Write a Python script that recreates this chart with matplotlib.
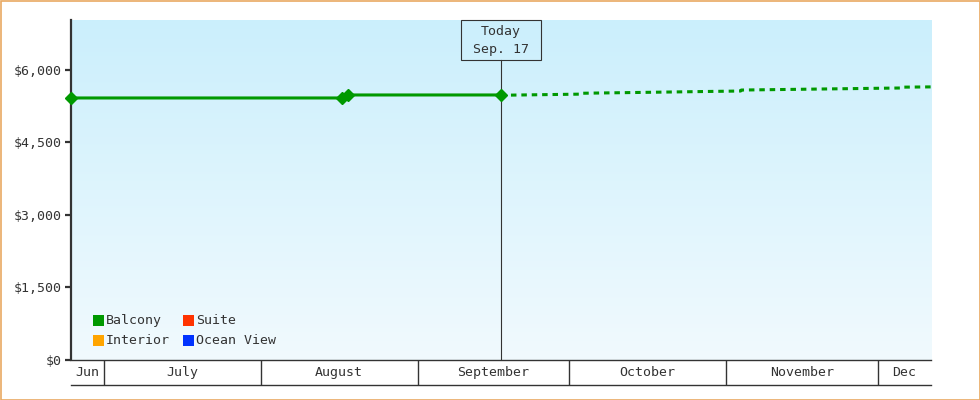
import numpy as np
import matplotlib
matplotlib.use("Agg")
import matplotlib.pyplot as plt
import matplotlib.dates as mdates
from matplotlib.patches import Rectangle
from datetime import datetime

plt.rcParams['font.family'] = ['DejaVu Sans Mono', 'DejaVu Sans']

# ---- data ----
actual_dates = ["2023-06-24 12:00", "2023-08-17 04:00", "2023-08-18 04:00", "2023-09-17 10:00"]
actual_values = [5421, 5421, 5483, 5483]

forecast_dates = ["2023-09-17 10:00", "2023-10-03 00:00", "2023-10-03 03:00",
                  "2023-11-03 21:00", "2023-11-04 00:00", "2023-12-06 00:00",
                  "2023-12-06 03:00", "2023-12-11 12:00"]
forecast_values = [5477, 5500, 5518, 5565, 5585, 5628, 5645, 5650]

today_date = "2023-09-17 10:00"
today_label = ["Today", "Sep. 17"]

x_start = "2023-06-24 12:00"
x_end = "2023-12-11 12:00"

month_bounds = ["2023-06-24 12:00", "2023-07-01", "2023-08-01", "2023-09-01",
                "2023-10-01", "2023-11-01", "2023-12-01", "2023-12-11 12:00"]
month_labels = ["Jun", "July", "August", "September", "October", "November", "Dec"]

y_ticks = [0, 1500, 3000, 4500, 6000]
y_tick_labels = ["$0", "$1,500", "$3,000", "$4,500", "$6,000"]
y_max = 7034

legend_labels = ["Balcony", "Suite", "Interior", "Ocean View"]
legend_colors = ["#009900", "#FF3300", "#FFA500", "#0033FF"]

# ---- figure ----
def d(s):
    return mdates.date2num(datetime.fromisoformat(s))

W, H = 980, 400
fig = plt.figure(figsize=(W / 100, H / 100), dpi=100)
fig.patch.set_facecolor("white")

L, R, T, B = 71, 931, 20, 360
ax = fig.add_axes([L / W, 1 - B / H, (R - L) / W, (B - T) / H])
ax.set_xlim(d(x_start), d(x_end))
ax.set_ylim(0, y_max)

# gradient background
top_c = np.array([203, 239, 252]) / 255
bot_c = np.array([241, 250, 254]) / 255
g = np.linspace(0, 1, 256)[:, None]
grad = top_c[None, None, :] * (1 - g[..., None]) + bot_c[None, None, :] * g[..., None]
grad = np.repeat(grad, 2, axis=1)
ax.imshow(grad, extent=[0, 1, 0, 1], transform=ax.transAxes, aspect="auto", zorder=0)
ax.set_facecolor("none")

for s in ["top", "right", "bottom"]:
    ax.spines[s].set_visible(False)
ax.spines["left"].set_color("#333333")
ax.spines["left"].set_linewidth(1.6)

ax.set_xticks([])
ax.set_yticks(y_ticks)
ax.set_yticklabels(y_tick_labels)
ax.tick_params(axis="y", length=4.5, width=1.6, color="#333333", pad=2,
               labelsize=9.5, labelcolor="#333333")

ax_dates = [d(s) for s in actual_dates]
fc_dates = [d(s) for s in forecast_dates]
green = legend_colors[0]
ax.plot(fc_dates, forecast_values, color=green, lw=2.2, linestyle=(0, (1.8, 1.6)),
        dash_capstyle="butt", zorder=3)
ax.plot(ax_dates, actual_values, color=green, lw=2.2, marker="D", ms=6.3,
        zorder=4, clip_on=False, solid_capstyle="butt")

# today marker
td = d(today_date)
box_h_frac = 40 / (B - T)
ax.plot([td, td], [0, 1 - box_h_frac], transform=ax.get_xaxis_transform(),
        color="#333333", lw=0.8, zorder=2)
fig.canvas.draw()
px = ax.transData.transform((td, 0))[0]
rect = Rectangle((px - 40, H - 60), 80, 40, transform=None, fill=False,
                 edgecolor="#333333", lw=0.8, zorder=5)
fig.add_artist(rect)
fig.text(px / W, 1 - 32 / H, today_label[0], ha="center", va="center",
         fontsize=9.5, color="#333333")
fig.text(px / W, 1 - 50 / H, today_label[1], ha="center", va="center",
         fontsize=9.5, color="#333333")

# legend
sq = 11
col_x = [93, 183]
row_y = [315, 335]
for i, (lab, col) in enumerate(zip(legend_labels, legend_colors)):
    cx = col_x[i % 2]
    ry = row_y[i // 2]
    fig.add_artist(Rectangle((cx, H - ry - sq), sq, sq, transform=None,
                             facecolor=col, edgecolor="none", zorder=6))
    fig.text((cx + sq + 2) / W, 1 - (ry + sq / 2) / H, lab, ha="left",
             va="center", fontsize=9.5, color="#333333")

# month band
BB = 385
ax2 = fig.add_axes([L / W, 1 - BB / H, (R - L) / W, (BB - B) / H])
ax2.set_xlim(d(x_start), d(x_end))
ax2.set_ylim(0, 1)
ax2.set_xticks([])
ax2.set_yticks([])
ax2.set_facecolor("white")
for s in ["left", "right"]:
    ax2.spines[s].set_visible(False)
for s in ["top", "bottom"]:
    ax2.spines[s].set_color("#333333")
    ax2.spines[s].set_linewidth(1.0)
mb = [d(s) for s in month_bounds]
for xb in mb[1:-1]:
    ax2.axvline(xb, color="#333333", lw=1.0)
for i, lab in enumerate(month_labels):
    ax2.text((mb[i] + mb[i + 1]) / 2, 0.5, lab, ha="center", va="center",
             fontsize=9.5, color="#333333")

# outer border
fig.add_artist(Rectangle((0.5, 0.5), W - 1, H - 1, transform=None, fill=False,
                         edgecolor="#E9A962", lw=1.2, zorder=10))

fig.savefig("out.png", dpi=100)
